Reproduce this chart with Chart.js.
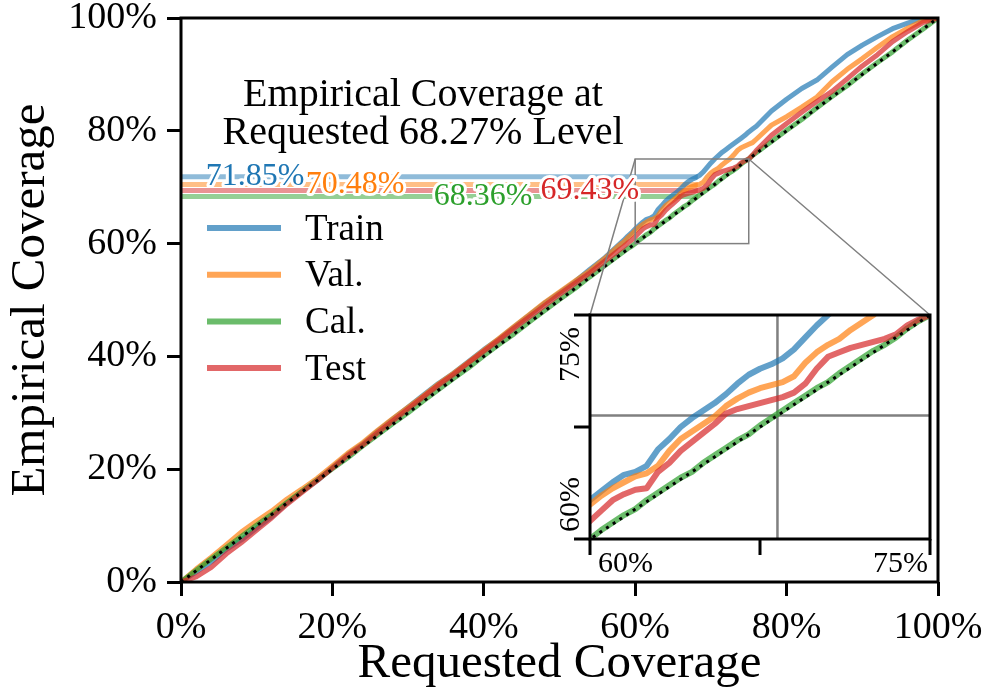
<!DOCTYPE html>
<html>
<head>
<meta charset="utf-8">
<script src="https://cdn.jsdelivr.net/npm/chart.js@4.4.1/dist/chart.umd.min.js"></script>
<style>
  html, body { margin: 0; padding: 0; background: #ffffff; }
  #wrap { position: relative; width: 989px; height: 694px; overflow: hidden; }
  #main { position: absolute; left: 0; top: 0; }
  #inset { position: absolute; left: 560px; top: 290px; }
</style>
</head>
<body>
<div id="wrap">
  <canvas id="main" width="989" height="694"></canvas>
  <canvas id="inset" width="400" height="300"></canvas>
</div>
<script>
// Requested coverage levels (%) at which empirical coverage was evaluated
const requested = [
  0, 2, 4, 6, 8, 10, 12, 14, 16, 18, 20, 22, 24, 26, 28, 30, 32, 34, 36, 38,
  40, 42, 44, 46, 48, 50, 52, 54, 56, 58,
  58.5, 59, 59.5, 60, 60.5, 61, 61.5, 62, 62.5, 63, 63.5, 64, 64.5, 65, 65.5, 66,
  66.5, 67, 67.5, 68, 68.5, 69, 69.5, 70, 70.5, 71, 71.5, 72, 72.5, 73, 73.5, 74,
  74.5, 75, 75.5, 76,
  78, 80, 82, 84, 86, 88, 90, 92, 94, 96, 98, 100
];

// Empirical coverage (%) per data split
const trainCov = [
  0, 1.8, 3.6, 5.8, 7.5, 9.6, 11.6, 14.0, 16.1, 18.0, 20.3, 22.6, 24.5, 26.8, 28.9, 31.0, 33.1, 35.2, 37.0, 39.1,
  41.2, 43.1, 45.2, 47.3, 49.4, 51.3, 53.2, 55.4, 57.5, 60.0,
  60.6, 61.3, 61.9, 62.6, 63.2, 63.8, 64.3, 64.5, 64.9, 66.0, 66.7, 67.5, 68.1, 68.6, 69.1, 69.7,
  70.4, 71.0, 71.4, 71.7, 72.1, 72.7, 73.5, 74.3, 75.0, 75.6, 76.2, 76.7, 77.2, 77.7, 78.2, 78.7,
  79.2, 79.8, 80.3, 80.8,
  83.5, 85.6, 87.5, 89.0, 91.3, 93.5, 95.2, 96.7, 98.1, 99.1, 100, 100
];
const valCov = [
  0, 2.3, 4.4, 6.6, 8.9, 10.8, 12.6, 14.7, 16.5, 18.4, 20.6, 22.8, 24.7, 26.9, 29.0, 31.0, 33.0, 35.1, 37.0, 39.0,
  41.1, 43.2, 45.3, 47.4, 49.5, 51.4, 53.3, 55.2, 57.4, 59.8,
  60.3, 61.0, 61.6, 62.3, 62.9, 63.4, 63.8, 64.2, 64.4, 64.9, 65.9, 66.7, 67.2, 67.7, 68.2, 68.9,
  69.4, 69.8, 70.1, 70.3, 70.5, 70.9, 71.8, 72.5, 73.0, 73.4, 74.0, 74.5, 75.0, 75.7, 76.5, 77.0,
  77.3, 77.6, 77.9, 78.5,
  81.0, 82.5, 84.2, 86.0, 88.7, 90.9, 92.8, 94.8, 96.7, 98.2, 99.5, 100
];
const calCov = [
  0, 2.1, 4.1, 6.1, 8.1, 10.1, 12.0, 14.1, 16.1, 18.1, 20.1, 22.0, 24.1, 26.1, 28.1, 30.0, 32.1, 34.1, 36.1, 38.0,
  40.1, 42.1, 44.0, 46.1, 48.1, 50.1, 52.0, 54.1, 56.1, 58.1,
  58.6, 59.1, 59.5, 60.0, 60.6, 61.1, 61.6, 62.0, 62.6, 63.1, 63.6, 64.1, 64.5, 65.1, 65.6, 66.1,
  66.6, 67.0, 67.6, 68.1, 68.6, 69.1, 69.6, 70.1, 70.5, 71.1, 71.6, 72.1, 72.6, 73.0, 73.5, 74.1,
  74.6, 75.0, 75.6, 76.1,
  78.1, 80.1, 82.0, 84.1, 86.1, 88.0, 90.1, 92.1, 94.0, 96.1, 98.0, 100
];
const testCov = [
  0, 0.9, 2.6, 5.0, 7.0, 9.2, 11.4, 13.8, 15.9, 18.0, 20.2, 22.4, 24.3, 26.5, 28.6, 30.7, 32.8, 34.9, 36.8, 38.9,
  40.9, 42.9, 45.0, 47.0, 49.0, 51.0, 52.9, 54.8, 56.9, 59.0,
  59.5, 60.1, 60.6, 61.2, 61.9, 62.6, 63.0, 63.3, 63.4, 64.5, 65.1, 65.9, 66.5, 67.1, 67.7, 68.4,
  68.7, 68.9, 69.1, 69.3, 69.5, 69.8, 70.4, 71.4, 72.2, 72.5, 72.8, 73.0, 73.2, 73.4, 73.7, 74.3,
  74.7, 75.0, 75.7, 76.5,
  79.2, 81.3, 83.3, 85.2, 87.0, 89.2, 91.5, 93.5, 95.8, 97.6, 99.2, 100
];

const seriesNames = ['Train', 'Val.', 'Cal.', 'Test'];
// Empirical coverage of each split at the 1-sigma requested level
const requestedLevel = 68.27;
const levelCoverage = [71.85, 70.48, 68.36, 69.43];
const idealLine = [0, 100];
const mainTicks = [0, 20, 40, 60, 80, 100];
const insetTicks = [60, 67.5, 75];
const insetRange = [60, 75];

// ---------------------------------------------------------------------------
const FONT = "'Liberation Serif', 'DejaVu Serif', serif";
const COLORS = ['#1f77b4', '#ff7f0e', '#2ca02c', '#d62728'];
const seriesValues = [trainCov, valCov, calCov, testCov];
const INSET_AREA = { left: 590, top: 315, right: 930, bottom: 539 };
const INSET_CANVAS = { left: 560, top: 290, width: 400, height: 300 };

function rgba(hex, a) {
  const n = parseInt(hex.slice(1), 16);
  return `rgba(${(n >> 16) & 255},${(n >> 8) & 255},${n & 255},${a})`;
}
const toPoints = vals => requested.map((x, i) => ({ x, y: vals[i] }));

function curveDatasets(width, clip) {
  const ds = seriesValues.map((vals, i) => ({
    label: seriesNames[i],
    data: toPoints(vals),
    borderColor: rgba(COLORS[i], 0.7),
    borderWidth: width,
    borderJoinStyle: 'round',
    pointRadius: 0,
    fill: false,
    order: 4 - i + 1,
    clip: clip,
    isSeries: true,
    seriesIndex: i
  }));
  ds.push({
    label: 'ideal',
    data: idealLine.map(v => ({ x: v, y: v })),
    borderColor: '#000000',
    borderWidth: 3,
    borderDash: [3, 5],
    pointRadius: 0,
    fill: false,
    order: 0,
    clip: clip
  });
  return ds;
}

const levelDatasets = levelCoverage.map((v, i) => ({
  label: 'level ' + seriesNames[i],
  data: [{ x: 0, y: v }, { x: requestedLevel, y: v }],
  borderColor: rgba(COLORS[i], 0.5),
  borderWidth: 5,
  pointRadius: 0,
  fill: false,
  order: 6
}));

// Decorations of the main panel: zoom box, connectors, frame, labels, legend, title
const mainDecor = {
  id: 'mainDecor',
  afterDatasetsDraw(chart, args, opts) {
    const { ctx, chartArea: a } = chart;
    const xs = chart.scales.x, ys = chart.scales.y;
    ctx.save();

    // zoom box and connectors to the inset
    const bx0 = xs.getPixelForValue(insetRange[0]), bx1 = xs.getPixelForValue(insetRange[1]);
    const by0 = ys.getPixelForValue(insetRange[1]), by1 = ys.getPixelForValue(insetRange[0]);
    ctx.strokeStyle = '#808080';
    ctx.lineWidth = 1.5;
    ctx.strokeRect(bx0, by0, bx1 - bx0, by1 - by0);
    ctx.beginPath();
    ctx.moveTo(bx0, by0); ctx.lineTo(INSET_AREA.left, INSET_AREA.top);
    ctx.moveTo(bx1, by0); ctx.lineTo(INSET_AREA.right, INSET_AREA.top);
    ctx.stroke();

    // frame
    ctx.strokeStyle = '#000000';
    ctx.lineWidth = 3;
    ctx.strokeRect(a.left, a.top, a.right - a.left, a.bottom - a.top);

    // level value labels
    ctx.font = `32px ${FONT}`;
    ctx.textAlign = 'center';
    ctx.textBaseline = 'middle';
    ctx.lineJoin = 'round';
    levelCoverage.forEach((v, i) => {
      const px = xs.getPixelForValue(opts.labelAt[i]);
      const py = ys.getPixelForValue(v);
      const txt = v.toFixed(2) + '%';
      ctx.strokeStyle = '#ffffff';
      ctx.lineWidth = 6;
      ctx.strokeText(txt, px, py);
      ctx.fillStyle = COLORS[i];
      ctx.fillText(txt, px, py);
    });

    // title
    ctx.fillStyle = '#000000';
    ctx.font = `40px ${FONT}`;
    ctx.fillText('Empirical Coverage at', opts.titleX, opts.titleY[0]);
    ctx.fillText(`Requested ${requestedLevel.toFixed(2)}% Level`, opts.titleX, opts.titleY[1]);

    // legend
    ctx.font = `37px ${FONT}`;
    ctx.textAlign = 'left';
    chart.data.datasets.filter(d => d.isSeries).forEach((d, k) => {
      const y = opts.legendY + k * opts.legendStep;
      ctx.strokeStyle = d.borderColor;
      ctx.lineWidth = 6;
      ctx.beginPath();
      ctx.moveTo(opts.legendX0, y);
      ctx.lineTo(opts.legendX1, y);
      ctx.stroke();
      ctx.fillStyle = '#000000';
      ctx.fillText(d.label, opts.legendTextX, y + 2);
    });
    ctx.restore();
  }
};

const mainChart = new Chart(document.getElementById('main'), {
  type: 'line',
  data: { datasets: [...curveDatasets(5, undefined), ...levelDatasets] },
  options: {
    responsive: false,
    devicePixelRatio: 1,
    animation: false,
    events: [],
    layout: { padding: { left: 0, top: 18, right: 51, bottom: 0 } },
    scales: {
      x: {
        type: 'linear', min: 0, max: 100,
        afterFit: s => { s.height = 112; },
        afterBuildTicks: s => { s.ticks = mainTicks.map(v => ({ value: v })); },
        border: { display: false },
        grid: { drawOnChartArea: false, drawTicks: true, tickLength: 14, tickWidth: 3, tickColor: '#000000' },
        ticks: {
          callback: v => v + '%', color: '#000000', padding: 6, maxRotation: 0,
          font: { family: FONT, size: 38, lineHeight: 1.37 }
        },
        title: {
          display: true, text: 'Requested Coverage', color: '#000000',
          font: { family: FONT, size: 49, lineHeight: 1.2 }, padding: { top: 0, bottom: 0 }
        }
      },
      y: {
        type: 'linear', min: 0, max: 100,
        afterFit: s => { s.width = 181; },
        afterBuildTicks: s => { s.ticks = mainTicks.map(v => ({ value: v })); },
        border: { display: false },
        grid: { drawOnChartArea: false, drawTicks: true, tickLength: 14, tickWidth: 3, tickColor: '#000000' },
        ticks: {
          callback: v => v + '%', color: '#000000', padding: 10,
          font: { family: FONT, size: 38, lineHeight: 0.4 }
        },
        title: {
          display: true, text: 'Empirical Coverage', color: '#000000',
          font: { family: FONT, size: 49, lineHeight: 1.2 }, padding: { top: 2, bottom: 0 }
        }
      }
    },
    plugins: {
      legend: { display: false },
      tooltip: { enabled: false },
      mainDecor: {
        labelAt: [9.8, 23.0, 39.9, 54.0],
        titleX: 423, titleY: [95, 133],
        legendX0: 207, legendX1: 281, legendTextX: 305, legendY: 228, legendStep: 46.7
      }
    }
  },
  plugins: [mainDecor]
});

// Inset: magnified view of the 60%-75% region
const insetDecor = {
  id: 'insetDecor',
  beforeDatasetsDraw(chart) {
    const { ctx, chartArea: a } = chart;
    const xs = chart.scales.x, ys = chart.scales.y;
    ctx.save();
    ctx.fillStyle = '#ffffff';
    ctx.fillRect(a.left, a.top, a.right - a.left, a.bottom - a.top);
    ctx.strokeStyle = '#808080';
    ctx.lineWidth = 2.5;
    const gx = xs.getPixelForValue(requestedLevel), gy = ys.getPixelForValue(requestedLevel);
    ctx.beginPath();
    ctx.moveTo(gx, a.top); ctx.lineTo(gx, a.bottom);
    ctx.moveTo(a.left, gy); ctx.lineTo(a.right, gy);
    ctx.stroke();
    ctx.restore();
  },
  afterDatasetsDraw(chart) {
    const { ctx, chartArea: a } = chart;
    const xs = chart.scales.x, ys = chart.scales.y;
    ctx.save();
    ctx.strokeStyle = '#000000';
    ctx.lineWidth = 3;
    ctx.strokeRect(a.left, a.top, a.right - a.left, a.bottom - a.top);
    ctx.beginPath();
    insetTicks.forEach(v => {
      const px = xs.getPixelForValue(v);
      ctx.moveTo(px, a.bottom); ctx.lineTo(px, a.bottom + 16);
      const py = ys.getPixelForValue(v);
      ctx.moveTo(a.left, py); ctx.lineTo(a.left - 16, py);
    });
    ctx.stroke();

    ctx.fillStyle = '#000000';
    ctx.font = `30px ${FONT}`;
    ctx.textBaseline = 'alphabetic';
    const lo = insetRange[0] + '%', hi = insetRange[1] + '%';
    ctx.textAlign = 'left';
    ctx.fillText(lo, xs.getPixelForValue(insetRange[0]) + 8, a.bottom + 33);
    ctx.textAlign = 'right';
    ctx.fillText(hi, xs.getPixelForValue(insetRange[1]) - 2, a.bottom + 33);

    ctx.save();
    ctx.translate(a.left - 11, ys.getPixelForValue(insetRange[1]) + 12);
    ctx.rotate(-Math.PI / 2);
    ctx.textAlign = 'right';
    ctx.fillText(hi, 0, 0);
    ctx.restore();
    ctx.save();
    ctx.translate(a.left - 11, ys.getPixelForValue(insetRange[0]) - 7);
    ctx.rotate(-Math.PI / 2);
    ctx.textAlign = 'left';
    ctx.fillText(lo, 0, 0);
    ctx.restore();
    ctx.restore();
  }
};

const insetChart = new Chart(document.getElementById('inset'), {
  type: 'line',
  data: { datasets: curveDatasets(6, 0) },
  options: {
    responsive: false,
    devicePixelRatio: 1,
    animation: false,
    events: [],
    layout: {
      padding: {
        left: INSET_AREA.left - INSET_CANVAS.left,
        top: INSET_AREA.top - INSET_CANVAS.top,
        right: INSET_CANVAS.left + INSET_CANVAS.width - INSET_AREA.right,
        bottom: INSET_CANVAS.top + INSET_CANVAS.height - INSET_AREA.bottom
      }
    },
    scales: {
      x: { type: 'linear', min: insetRange[0], max: insetRange[1], display: false },
      y: { type: 'linear', min: insetRange[0], max: insetRange[1], display: false }
    },
    plugins: { legend: { display: false }, tooltip: { enabled: false } }
  },
  plugins: [insetDecor]
});
</script>
</body>
</html>
